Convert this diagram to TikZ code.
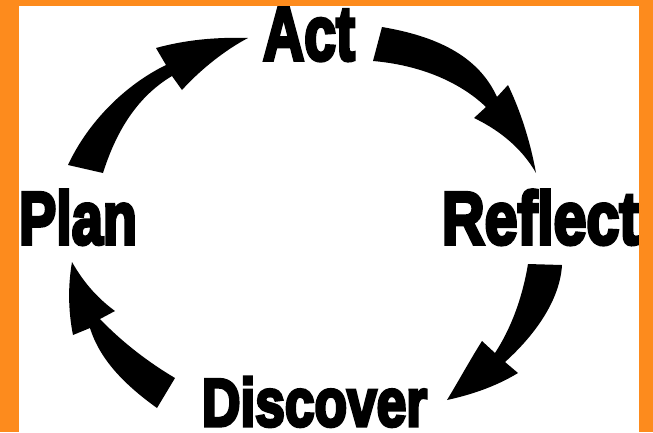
\documentclass[tikz,border=0pt]{standalone}
\usepackage{fontspec}
\usepackage{graphicx}
\newfontfamily\heavyfont{Liberation Sans}[UprightFeatures={FakeBold=5}, BoldFeatures={FakeBold=5}]
\definecolor{frameorange}{RGB}{253,139,29}
% a word of the cycle, squeezed to a given width and cap height
\newcommand{\cycleword}[3]{\resizebox{#1}{#2}{\heavyfont\bfseries #3}}
\tikzset{
  word/.style={inner sep=0pt, outer sep=0pt, anchor=base west},
  cyclearrow/.style={fill=black},
  frame/.style={fill=frameorange}
}
\begin{document}
\begin{tikzpicture}[x=1pt,y=-1pt]
\useasboundingbox (0,0) rectangle (653,432);
\fill[white] (0,0) rectangle (653,432);

% the four stages
\node[word] (act)      at (263,60)  {\cycleword{92pt}{53pt}{Act}};
\node[word] (reflect)  at (442,244) {\cycleword{197pt}{54pt}{Reflect}};
\node[word] (discover) at (202,426) {\cycleword{225pt}{49pt}{Discover}};
\node[word] (plan)     at (19,244)  {\cycleword{118pt}{54pt}{Plan}};

% Plan -> Act
\fill[cyclearrow] (68,165) .. controls (88,122) and (125,85) .. (166,65)
  -- (156,48) .. controls (185,40) and (215,37) .. (248,38)
  .. controls (225,50) and (200,70) .. (182,90)
  -- (172,76) .. controls (135,98) and (115,135) .. (103,173) -- cycle;

% Act -> Reflect
\fill[cyclearrow] (382,27) .. controls (435,36) and (478,55) .. (497,97)
  -- (508,85) .. controls (520,110) and (530,140) .. (536,173)
  .. controls (520,145) and (495,128) .. (474,118)
  -- (486,107) .. controls (460,82) and (420,65) .. (373,61) -- cycle;

% Reflect -> Discover
\fill[cyclearrow] (528,264) .. controls (522,300) and (510,330) .. (495,353)
  -- (482,341) .. controls (470,360) and (458,382) .. (447,400)
  .. controls (470,395) and (495,387) .. (518,373)
  -- (505,362) .. controls (535,335) and (560,300) .. (562,265) -- cycle;

% Discover -> Plan
\fill[cyclearrow] (175,378) .. controls (148,362) and (122,342) .. (100,319)
  -- (115,311) .. controls (100,300) and (85,285) .. (72,262)
  .. controls (68,285) and (68,310) .. (73,335)
  -- (90,328) .. controls (100,360) and (125,385) .. (157,408) -- cycle;

% orange frame on three sides
\fill[frame] (0,0) rectangle (19,432);
\fill[frame] (0,0) rectangle (653,6);
\fill[frame] (639,0) rectangle (653,432);
\end{tikzpicture}
\end{document}
